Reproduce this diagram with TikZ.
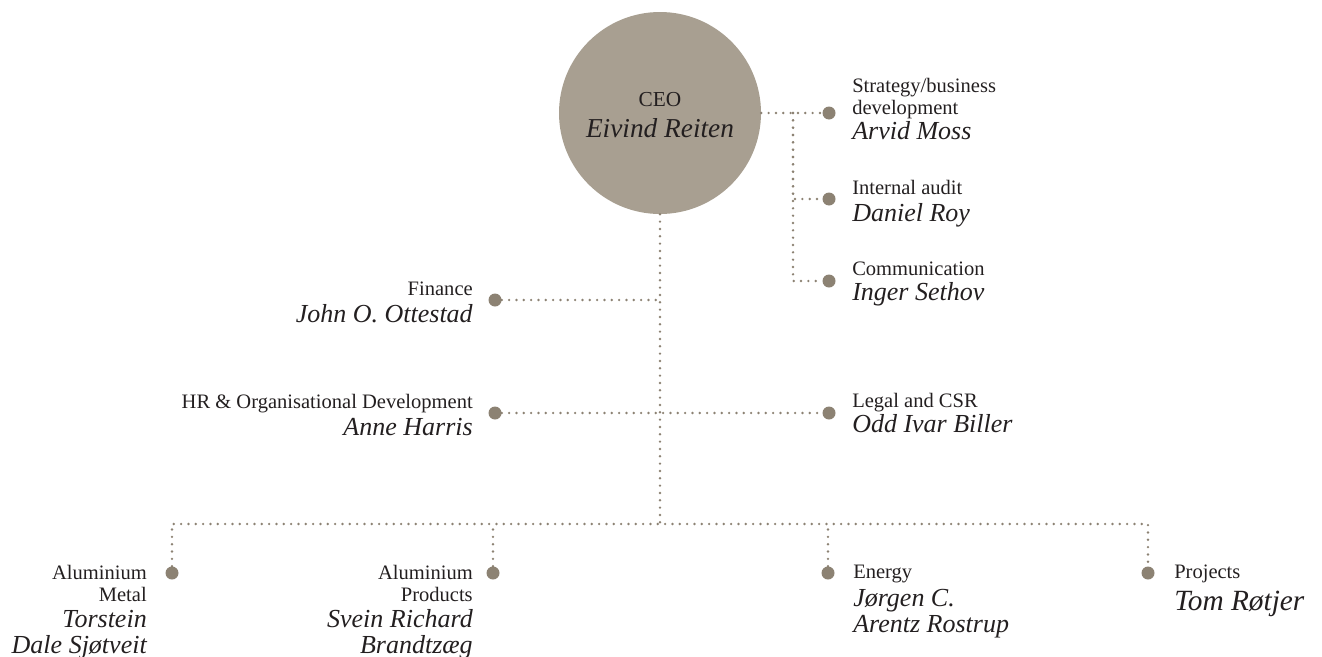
\documentclass[tikz,border=0pt]{standalone}
\usepackage{fontspec}
\setmainfont{Liberation Serif}
\definecolor{ceofill}{HTML}{A89F91}
\definecolor{dotgrey}{HTML}{8C8273}
\definecolor{inkdark}{HTML}{231F20}
\begin{document}
\begin{tikzpicture}[x=0.75pt,y=-0.75pt,
    link/.style={dotgrey,line width=2pt,line cap=round,dash pattern=on 0pt off 5.5pt},
    bullet/.style={circle,fill=dotgrey,inner sep=0pt,minimum size=9.75pt},
    role/.style={inner sep=0pt,text=inkdark,font=\fontsize{15.4}{16.5}\selectfont},
    person/.style={inner sep=0pt,text=inkdark,font=\fontsize{19.5}{19.5}\selectfont\itshape}]
    \useasboundingbox (0,0) rectangle (1322,657);

    % CEO
    \node[circle,fill=ceofill,minimum size=151.5pt,inner sep=0pt] (ceo) at (660,113) {};
    \node[role,font=\fontsize{16}{18}\selectfont,anchor=base] (ceoRole) at (660,106) {CEO};
    \node[person,font=\fontsize{20.5}{24}\selectfont\itshape,anchor=base] (ceoName) at (660,137) {Eivind Reiten};

    % staff functions (right of CEO)
    \coordinate (jStaff) at (793,113);
    \node[bullet] (dStrat) at (829,113) {};
    \node[bullet] (dAudit) at (829,199) {};
    \node[bullet] (dComm) at (829,281) {};
    \draw[link] (ceo) -- (dStrat);
    \draw[link] (jStaff) |- (dAudit);
    \draw[link] (jStaff) |- (dComm);
    \node[role,anchor=base west,align=left] (tStrat) at (852,114) {Strategy/business\\development};
    \node[person,anchor=base west] (nStrat) at (852,139) {Arvid Moss};
    \node[role,anchor=base west] (tAudit) at (852,194) {Internal audit};
    \node[person,anchor=base west] (nAudit) at (852,221) {Daniel Roy};
    \node[role,anchor=base west] (tComm) at (852,275) {Communication};
    \node[person,anchor=base west] (nComm) at (852,300) {Inger Sethov};

    % corporate functions
    \node[bullet] (dFin) at (495,300) {};
    \node[bullet] (dHR) at (495,413) {};
    \node[bullet] (dLegal) at (829,413) {};
    \draw[link] (dFin) -- (ceo |- dFin);
    \draw[link] (dHR) -- (dLegal);
    \node[role,anchor=base east] (tFin) at (473,295) {Finance};
    \node[person,anchor=base east] (nFin) at (473,322) {John O. Ottestad};
    \node[role,anchor=base east] (tHR) at (473,408) {HR \& Organisational Development};
    \node[person,anchor=base east] (nHR) at (473,435) {Anne Harris};
    \node[role,anchor=base west] (tLegal) at (852,407) {Legal and CSR};
    \node[person,anchor=base west] (nLegal) at (852,432) {Odd Ivar Biller};

    % business areas
    \coordinate (busL) at (172,524);
    \coordinate (busR) at (1148,524);
    \node[bullet] (dMetal) at (172,573) {};
    \node[bullet] (dProd) at (493,573) {};
    \node[bullet] (dEnergy) at (828,573) {};
    \node[bullet] (dProj) at (1148,573) {};
    \draw[link] (ceo) -- (ceo |- busL);
    \draw[link] (dMetal) -- (busL) -- (busR) -- (dProj);
    \draw[link] (dProd) -- (dProd |- busL);
    \draw[link] (dEnergy) -- (dEnergy |- busL);
    \node[role,anchor=base east,align=right] (tMetal) at (147,601) {Aluminium\\Metal};
    \node[person,anchor=base east,align=right] (nMetal) at (147,653) {Torstein\\Dale Sjøtveit};
    \node[role,anchor=base east,align=right] (tProd) at (473,601) {Aluminium\\Products};
    \node[person,anchor=base east,align=right] (nProd) at (473,653) {Svein Richard\\Brandtzæg};
    \node[role,anchor=base west] (tEnergy) at (853,578) {Energy};
    \node[person,anchor=base west,align=left] (nEnergy) at (853,632) {Jørgen C.\\Arentz Rostrup};
    \node[role,anchor=base west] (tProj) at (1174,578) {Projects};
    \node[person,font=\fontsize{22}{22}\selectfont\itshape,anchor=base west] (nProj) at (1174,610) {Tom Røtjer};
\end{tikzpicture}
\end{document}
